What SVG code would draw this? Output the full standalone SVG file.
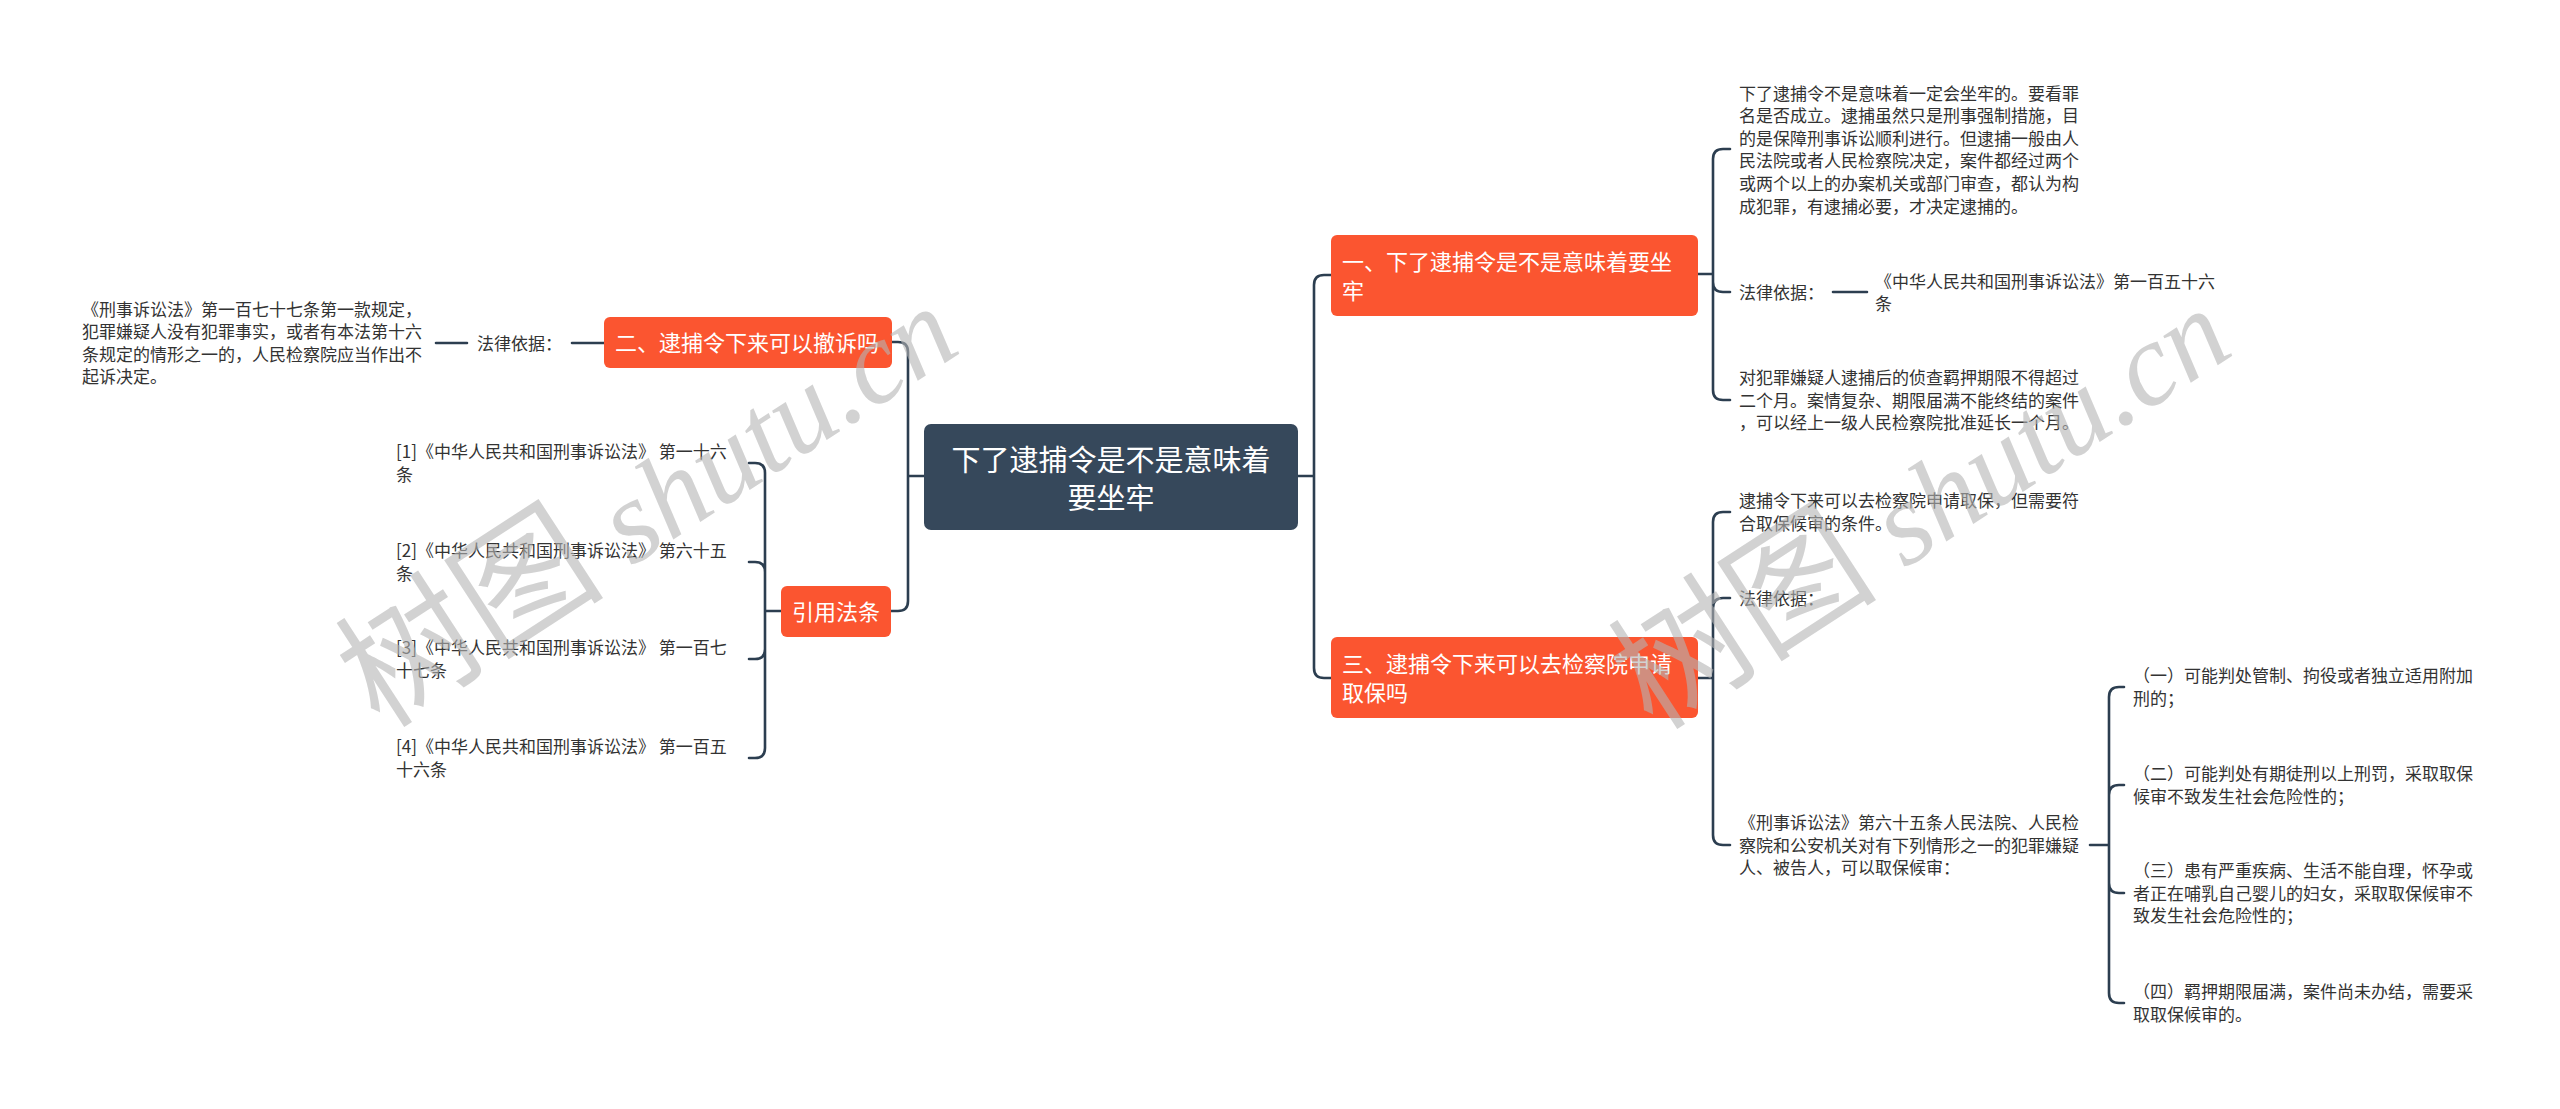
<svg xmlns="http://www.w3.org/2000/svg" width="2560" height="1109" viewBox="0 0 2560 1109">
<style>
.t{font-family:"Noto Sans CJK SC","Noto Sans",sans-serif;font-size:17px;fill:#333333}
.b{font-family:"Noto Sans CJK SC","Noto Sans",sans-serif;font-size:22px;fill:#ffffff}
.r{font-family:"Noto Sans CJK SC","Noto Sans",sans-serif;font-size:29px;fill:#ffffff}
.box{fill:#fb5530}
.root{fill:#36485b}
.c{fill:none;stroke:#2c3e50;stroke-width:2.6;stroke-linecap:round}
.wm{font-family:"Liberation Serif","Noto Sans CJK SC",serif;font-size:118px;fill:#b4b4b4;fill-opacity:0.6}
.wz{font-size:135px}
.wi{font-style:italic}
</style>
<rect width="2560" height="1109" fill="#ffffff"/>
<g id="connectors">
<path class="c" d="M924,476 H908 M908,476 V352 Q908,342 898,342 H892 M908,476 V601 Q908,611 898,611 H891"/>
<path class="c" d="M604,343 H572 M467,343 H436"/>
<path class="c" d="M781,611 H765 M765,611 V473 Q765,463 755,463 H749 M765,611 V572 Q765,562 755,562 H749 M765,611 V649 Q765,659 755,659 H749 M765,611 V748 Q765,758 755,758 H749"/>
<path class="c" d="M1298,476 H1314 M1314,476 V285 Q1314,275 1324,275 H1331 M1314,476 V668 Q1314,678 1324,678 H1331"/>
<path class="c" d="M1697,274 H1713 M1713,274 V159 Q1713,149 1723,149 H1730 M1713,274 V282 Q1713,292 1723,292 H1730 M1713,274 V390 Q1713,400 1723,400 H1730 M1833,292 H1867"/>
<path class="c" d="M1697,678 H1713 M1713,678 V522 Q1713,512 1723,512 H1730 M1713,678 V608 Q1713,598 1723,598 H1730 M1713,678 V835 Q1713,845 1723,845 H1730"/>
<path class="c" d="M2090,845 H2109 M2109,845 V697 Q2109,687 2119,687 H2124 M2109,845 V795 Q2109,785 2119,785 H2124 M2109,845 V883 Q2109,893 2119,893 H2124 M2109,845 V993 Q2109,1003 2119,1003 H2124"/>
</g>
<g id="root">
<rect class="root" x="924" y="424" width="374" height="106" rx="7"/>
<text class="r" text-anchor="middle"><tspan x="1111" y="471">下了逮捕令是不是意味着</tspan><tspan x="1111" y="509">要坐牢</tspan></text>
</g>
<g id="n2">
<rect class="box" x="604" y="317" width="288" height="51" rx="6"/>
<text class="b" x="615" y="351">二、逮捕令下来可以撤诉吗</text>
</g>
<g id="n2-basis"><text class="t" x="477" y="349.5">法律依据：</text></g>
<g id="n2-text"><text class="t"><tspan x="82" y="315.6">《刑事诉讼法》第一百七十七条第一款规定，</tspan><tspan x="82" y="338.2">犯罪嫌疑人没有犯罪事实，或者有本法第十六</tspan><tspan x="82" y="360.8">条规定的情形之一的，人民检察院应当作出不</tspan><tspan x="82" y="383.4">起诉决定。</tspan></text></g>
<g id="nref">
<rect class="box" x="781" y="586" width="110" height="51" rx="6"/>
<text class="b" x="792" y="620">引用法条</text>
</g>
<g id="ref1"><text class="t"><tspan x="396" y="458">[1]《中华人民共和国刑事诉讼法》 第一十六</tspan><tspan x="396" y="481">条</tspan></text></g>
<g id="ref2"><text class="t"><tspan x="396" y="557">[2]《中华人民共和国刑事诉讼法》 第六十五</tspan><tspan x="396" y="580">条</tspan></text></g>
<g id="ref3"><text class="t"><tspan x="396" y="654">[3]《中华人民共和国刑事诉讼法》 第一百七</tspan><tspan x="396" y="677">十七条</tspan></text></g>
<g id="ref4"><text class="t"><tspan x="396" y="753">[4]《中华人民共和国刑事诉讼法》 第一百五</tspan><tspan x="396" y="776">十六条</tspan></text></g>
<g id="n1">
<rect class="box" x="1331" y="235" width="367" height="81" rx="6"/>
<text class="b"><tspan x="1342" y="270">一、下了逮捕令是不是意味着要坐</tspan><tspan x="1342" y="299">牢</tspan></text>
</g>
<g id="n1-a"><text class="t"><tspan x="1739" y="99.5">下了逮捕令不是意味着一定会坐牢的。要看罪</tspan><tspan x="1739" y="122.1">名是否成立。逮捕虽然只是刑事强制措施，目</tspan><tspan x="1739" y="144.7">的是保障刑事诉讼顺利进行。但逮捕一般由人</tspan><tspan x="1739" y="167.3">民法院或者人民检察院决定，案件都经过两个</tspan><tspan x="1739" y="189.9">或两个以上的办案机关或部门审查，都认为构</tspan><tspan x="1739" y="212.5">成犯罪，有逮捕必要，才决定逮捕的。</tspan></text></g>
<g id="n1-basis"><text class="t" x="1739" y="298.5">法律依据：</text></g>
<g id="n1-basis-text"><text class="t"><tspan x="1875" y="287.5">《中华人民共和国刑事诉讼法》第一百五十六</tspan><tspan x="1875" y="310">条</tspan></text></g>
<g id="n1-c"><text class="t"><tspan x="1739" y="384">对犯罪嫌疑人逮捕后的侦查羁押期限不得超过</tspan><tspan x="1739" y="406.5">二个月。案情复杂、期限届满不能终结的案件</tspan><tspan x="1739" y="429">，可以经上一级人民检察院批准延长一个月。</tspan></text></g>
<g id="n3">
<rect class="box" x="1331" y="637" width="367" height="81" rx="6"/>
<text class="b"><tspan x="1342" y="672">三、逮捕令下来可以去检察院申请</tspan><tspan x="1342" y="701">取保吗</tspan></text>
</g>
<g id="n3-a"><text class="t"><tspan x="1739" y="507">逮捕令下来可以去检察院申请取保，但需要符</tspan><tspan x="1739" y="530">合取保候审的条件。</tspan></text></g>
<g id="n3-basis"><text class="t" x="1739" y="604.5">法律依据：</text></g>
<g id="n3-c"><text class="t"><tspan x="1739" y="829">《刑事诉讼法》第六十五条人民法院、人民检</tspan><tspan x="1739" y="851.5">察院和公安机关对有下列情形之一的犯罪嫌疑</tspan><tspan x="1739" y="874">人、被告人，可以取保候审：</tspan></text></g>
<g id="s1"><text class="t"><tspan x="2133" y="682">（一）可能判处管制、拘役或者独立适用附加</tspan><tspan x="2133" y="705">刑的；</tspan></text></g>
<g id="s2"><text class="t"><tspan x="2133" y="780">（二）可能判处有期徒刑以上刑罚，采取取保</tspan><tspan x="2133" y="803">候审不致发生社会危险性的；</tspan></text></g>
<g id="s3"><text class="t"><tspan x="2133" y="877">（三）患有严重疾病、生活不能自理，怀孕或</tspan><tspan x="2133" y="899.5">者正在哺乳自己婴儿的妇女，采取取保候审不</tspan><tspan x="2133" y="922">致发生社会危险性的；</tspan></text></g>
<g id="s4"><text class="t"><tspan x="2133" y="998">（四）羁押期限届满，案件尚未办结，需要采</tspan><tspan x="2133" y="1021">取取保候审的。</tspan></text></g>
<g id="watermark">
<text class="wm" x="380" y="730" transform="rotate(-33 380 730)"><tspan class="wz">树图</tspan> <tspan class="wi">shutu.cn</tspan></text>
<text class="wm" x="1653" y="732" transform="rotate(-33 1653 732)"><tspan class="wz">树图</tspan> <tspan class="wi">shutu.cn</tspan></text>
</g>
</svg>
